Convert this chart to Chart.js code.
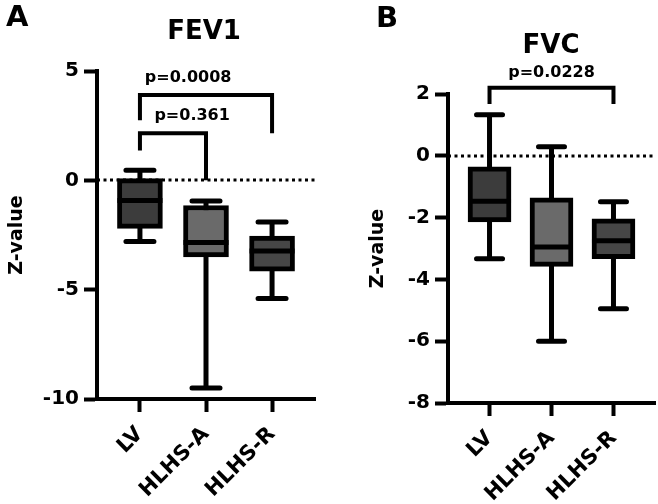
<!DOCTYPE html>
<html>
<head>
<meta charset="utf-8">
<script src="https://cdn.jsdelivr.net/npm/chart.js@4.4.1/dist/chart.umd.min.js"></script>
<style>
  html, body { margin: 0; padding: 0; background: #fff; }
  #wrap { position: relative; width: 658px; height: 504px; }
  canvas { position: absolute; top: 0; }
  #fev { left: 0; }
  #fvc { left: 329px; }
</style>
</head>
<body>
<div id="wrap">
  <canvas id="fev" width="329" height="504"></canvas>
  <canvas id="fvc" width="329" height="504"></canvas>
</div>
<script>
const GROUPS = ['LV', 'HLHS-A', 'HLHS-R'];
const BOX_COLORS = ['#3c3c3c', '#6a6a6a', '#464646'];
const FONT = '"DejaVu Sans", "Liberation Sans", Arial, sans-serif';

// FEV1 z-values
const fevMin = [-2.8, -9.5, -5.4];
const fevQ1  = [-2.2, -3.5, -4.15];
const fevMed = [-0.92, -2.84, -3.23];
const fevQ3  = [0.08, -1.15, -2.55];
const fevMax = [0.46, -0.95, -1.9];
const fevTicks = [-10, 5, 5]; // min, max, step

// FEV1 comparisons
const fevBrFrom  = [0, 0];
const fevBrTo    = [2, 1];
const fevBrLevel = [3.9, 2.15];
const fevBrLegL  = [2.75, 1.37];
const fevBrLegR  = [2.15, 0];
const fevBrText  = ['p=0.0008', 'p=0.361'];
const fevBrTextX = [0.73, 0.79];
const fevBrTextY = [4.48, 2.75];

// FVC z-values
const fvcMin = [-3.33, -6.0, -4.95];
const fvcQ1  = [-2.14, -3.58, -3.33];
const fvcMed = [-1.47, -2.95, -2.75];
const fvcQ3  = [-0.36, -1.36, -2.04];
const fvcMax = [1.33, 0.29, -1.49];
const fvcTicks = [-8, 2, 2];

// FVC comparisons
const fvcBrFrom  = [0];
const fvcBrTo    = [2];
const fvcBrLevel = [2.2];
const fvcBrLegL  = [1.68];
const fvcBrLegR  = [1.68];
const fvcBrText  = ['p=0.0228'];
const fvcBrTextX = [1.0];
const fvcBrTextY = [2.56];

function boxChart(canvasId, s) {
  const parts = {
    id: 'boxParts',
    beforeDatasetsDraw(chart) {
      const { ctx, chartArea, scales: { y } } = chart;
      ctx.save();
      // dotted zero line
      const y0 = Math.round(y.getPixelForValue(0));
      ctx.strokeStyle = '#000';
      ctx.lineWidth = 3;
      ctx.setLineDash([3, 3.5]);
      ctx.beginPath();
      ctx.moveTo(chartArea.left, y0);
      ctx.lineTo(chartArea.right, y0);
      ctx.stroke();
      ctx.setLineDash([]);
      // whiskers + caps
      ctx.lineWidth = 5;
      ctx.lineCap = 'round';
      chart.getDatasetMeta(0).data.forEach((bar, i) => {
        const top = y.getPixelForValue(s.max[i]);
        const bot = y.getPixelForValue(s.min[i]);
        ctx.beginPath();
        ctx.moveTo(bar.x, top); ctx.lineTo(bar.x, bot);
        ctx.moveTo(bar.x - s.cap, top); ctx.lineTo(bar.x + s.cap, top);
        ctx.moveTo(bar.x - s.cap, bot); ctx.lineTo(bar.x + s.cap, bot);
        ctx.stroke();
      });
      ctx.restore();
    },
    afterDatasetsDraw(chart) {
      const { ctx, scales: { y } } = chart;
      ctx.save();
      ctx.strokeStyle = '#000';
      ctx.lineWidth = 5;
      chart.getDatasetMeta(0).data.forEach((bar, i) => {
        const py = y.getPixelForValue(s.med[i]);
        ctx.beginPath();
        ctx.moveTo(bar.x - bar.width / 2, py);
        ctx.lineTo(bar.x + bar.width / 2, py);
        ctx.stroke();
      });
      ctx.restore();
    },
    afterDraw(chart) {
      const { ctx, scales: { x, y } } = chart;
      ctx.save();
      ctx.strokeStyle = '#000';
      ctx.fillStyle = '#000';
      ctx.lineWidth = 4;
      ctx.lineJoin = 'miter';
      s.brFrom.forEach((f, i) => {
        const xl = x.getPixelForValue(f), xr = x.getPixelForValue(s.brTo[i]);
        const lv = y.getPixelForValue(s.brLevel[i]);
        ctx.beginPath();
        ctx.moveTo(xl, y.getPixelForValue(s.brLegL[i]));
        ctx.lineTo(xl, lv);
        ctx.lineTo(xr, lv);
        ctx.lineTo(xr, y.getPixelForValue(s.brLegR[i]));
        ctx.stroke();
        ctx.font = 'bold 16px ' + FONT;
        ctx.textAlign = 'center';
        ctx.textBaseline = 'alphabetic';
        ctx.fillText(s.brText[i], x.getPixelForValue(s.brTextX[i]), y.getPixelForValue(s.brTextY[i]));
      });
      ctx.font = 'bold 26px ' + FONT;
      ctx.textAlign = 'center';
      ctx.fillText(s.title, s.titleX, s.titleY);
      ctx.font = 'bold 29px ' + FONT;
      ctx.textAlign = 'left';
      ctx.fillText(s.letter, s.letterX, s.letterY);
      ctx.restore();
    }
  };

  const axisGrid = {
    display: true, drawOnChartArea: false, drawTicks: true,
    tickLength: 13, tickWidth: 4, tickColor: '#000', color: '#000', offset: false
  };

  return new Chart(document.getElementById(canvasId), {
    type: 'bar',
    data: {
      datasets: [{
        data: GROUPS.map((g, i) => ({ x: i, y: [s.q1[i], s.q3[i]] })),
        backgroundColor: BOX_COLORS,
        borderColor: '#000',
        borderWidth: 5,
        borderSkipped: false,
        barThickness: s.boxWidth
      }]
    },
    options: {
      responsive: false,
      animation: false,
      devicePixelRatio: 1,
      layout: { padding: s.padding },
      plugins: { legend: { display: false }, tooltip: { enabled: false } },
      scales: {
        x: {
          type: 'linear',
          min: -s.xPad, max: 2 + s.xPad,
          offset: false,
          afterBuildTicks: sc => { sc.ticks = GROUPS.map((g, i) => ({ value: i })); },
          afterFit: sc => { sc.height = s.xHeight; },
          ticks: {
            autoSkip: false, minRotation: 45, maxRotation: 45, padding: 10,
            color: '#000', font: { family: FONT, weight: 'bold', size: 21 },
            callback: v => GROUPS[v]
          },
          grid: axisGrid,
          border: { display: true, width: 4, color: '#000' }
        },
        y: {
          min: s.ticks[0], max: s.ticks[1],
          afterFit: sc => { sc.width = s.yWidth; },
          ticks: {
            stepSize: s.ticks[2], padding: 5,
            color: '#000', font: { family: FONT, weight: 'bold', size: 20 }
          },
          grid: axisGrid,
          border: { display: true, width: 4, color: '#000' },
          title: {
            display: true, text: 'Z-value', color: '#000',
            font: { family: FONT, weight: 'bold', size: 19 },
            padding: { top: s.titlePad, bottom: 0 }
          }
        }
      }
    },
    plugins: [parts]
  });
}

boxChart('fev', {
  min: fevMin, q1: fevQ1, med: fevMed, q3: fevQ3, max: fevMax, ticks: fevTicks,
  brFrom: fevBrFrom, brTo: fevBrTo, brLevel: fevBrLevel, brLegL: fevBrLegL, brLegR: fevBrLegR,
  brText: fevBrText, brTextX: fevBrTextX, brTextY: fevBrTextY,
  title: 'FEV1', titleX: 204, titleY: 39, letter: 'A', letterX: 6, letterY: 26,
  padding: { top: 71, right: 14, left: 0, bottom: 0 },
  yWidth: 97, xHeight: 105, xPad: 0.65, titlePad: 6, boxWidth: 45, cap: 14
});

boxChart('fvc', {
  min: fvcMin, q1: fvcQ1, med: fvcMed, q3: fvcQ3, max: fvcMax, ticks: fvcTicks,
  brFrom: fvcBrFrom, brTo: fvcBrTo, brLevel: fvcBrLevel, brLegL: fvcBrLegL, brLegR: fvcBrLegR,
  brText: fvcBrText, brTextX: fvcBrTextX, brTextY: fvcBrTextY,
  title: 'FVC', titleX: 222, titleY: 53, letter: 'B', letterX: 47, letterY: 27,
  padding: { top: 94, right: 3, left: 0, bottom: 0 },
  yWidth: 119, xHeight: 101, xPad: 0.67, titlePad: 38, boxWidth: 43, cap: 13
});
</script>
</body>
</html>
